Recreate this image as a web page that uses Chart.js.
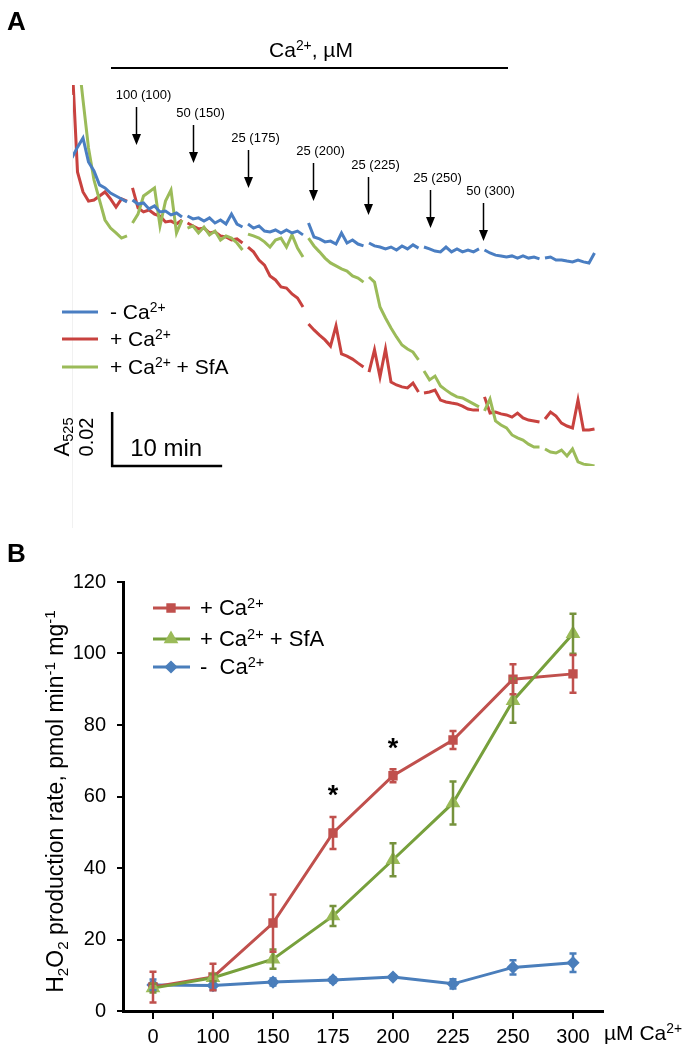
<!DOCTYPE html>
<html lang="en">
<head>
  <meta charset="UTF-8">
  <title>Ca2+ traces and H2O2 production rate</title>
  <script src="https://cdn.jsdelivr.net/npm/chart.js"></script>
  <style>
    body { margin: 0; background: #fff; }
    #page { position: relative; width: 684px; height: 1050px; }
    canvas { position: absolute; left: 0; }
    #traceChart { top: 0; }
    #rateChart { top: 530px; }
  </style>
</head>
<body>
<div id="page">
  <canvas id="traceChart" width="684" height="530"></canvas>
  <canvas id="rateChart" width="684" height="520"></canvas>
</div>

<script>
  // ---------- Panel A: A525 traces, sampled every 0.5 min (values in mA, relative) ----------
  const sampleStep = 0.5;
  const traceNoCa = [114.1, 118.1, 121.5, 112.6, 109.3, 104.1, 103.0, 101.1, 100.0, 98.9, 97.8,
    98.5, 97.0, 97.4, 95.2, 96.3, 94.1, 94.4, 93.0, 93.7, 92.2,
    92.6, 91.5, 91.9, 90.7, 91.9, 90.0, 91.1, 89.6, 93.3, 89.6, 88.5,
    89.6, 88.1, 88.9, 87.0, 86.7, 87.4, 86.3, 87.4, 86.3, 87.0, 85.6,
    90.0, 84.8, 84.1, 83.0, 83.3, 82.2, 86.3, 82.6, 83.7, 82.2, 81.5,
    82.6, 81.5, 81.1, 80.4, 81.1, 80.0, 81.5, 80.4, 81.9, 80.7,
    81.1, 80.4, 79.6, 79.3, 81.1, 79.3, 80.4, 79.3, 80.0, 79.3, 80.4,
    80.0, 78.9, 78.1, 77.8, 77.4, 77.8, 77.0, 77.8, 77.0, 77.4, 76.7,
    77.0, 77.4, 76.3, 76.3, 75.9, 75.6, 76.3, 75.6, 75.2, 78.9];
  const tracePlusCa = [150.4, 108.9, 101.5, 98.1, 98.5, 100.0, 101.5, 98.9, 95.9, 98.9, 98.1,
    103.0, 95.6, 94.1, 94.8, 93.3, 92.6, 90.4, 90.7, 89.6, 91.1,
    90.0, 88.9, 87.8, 88.1, 86.3, 86.7, 85.2, 84.8, 83.7, 84.1, 82.6,
    81.1, 79.3, 76.3, 74.4, 70.4, 68.9, 66.3, 65.9, 63.7, 62.2, 58.9,
    52.6, 50.4, 48.5, 46.7, 44.4, 51.9, 41.5, 40.7, 39.6, 38.1, 36.7,
    34.8, 43.0, 33.0, 43.3, 31.1, 30.0, 29.3, 28.9, 30.7, 27.4,
    27.0, 27.4, 28.1, 24.4, 23.7, 23.3, 23.0, 22.2, 21.1, 20.7, 20.7,
    25.6, 19.6, 20.0, 19.3, 18.9, 18.1, 19.6, 17.8, 17.0, 16.7, 16.3,
    17.4, 20.0, 18.5, 15.9, 14.8, 14.1, 24.4, 13.3, 13.3, 13.7];
  const tracePlusCaSfA = [null, 154.1, 135.6, 117.8, 105.9, 98.5, 91.1, 88.1, 86.3, 84.4, 85.2,
    90.0, 93.3, 100.0, 101.5, 103.0, 88.9, 98.1, 102.2, 86.3, 91.1,
    88.1, 88.9, 86.3, 88.5, 85.6, 87.0, 83.7, 85.2, 84.4, 82.6, 80.0,
    85.9, 85.2, 84.4, 83.0, 81.1, 83.7, 84.4, 81.1, 85.6, 80.7, 77.4,
    84.4, 81.5, 79.3, 77.0, 75.2, 74.1, 73.0, 72.2, 70.4, 69.6, 68.1,
    70.0, 68.1, 58.9, 54.8, 51.1, 47.8, 44.8, 43.3, 42.2, 39.3,
    35.2, 31.9, 33.3, 29.6, 28.1, 26.7, 25.6, 25.2, 24.1, 23.0, 21.9,
    20.4, 24.8, 16.7, 15.2, 14.1, 11.5, 10.4, 9.6, 8.1, 7.0, 7.0,
    6.3, 5.2, 4.8, 5.9, 3.7, 6.3, 1.5, 0.7, 0.4, 0.0];
  const timeMin = tracePlusCa.map((_, i) => i * sampleStep);
  // recording breaks (min)
  const gapTimes = [5.25, 10.25, 15.75, 21.25, 26.75, 31.75, 37.25, 42.75];
  // Ca2+ additions
  const additionTimes = [5.8, 11.0, 16.0, 21.9, 26.9, 32.5, 37.4];
  const addedCa = [100, 50, 25, 25, 25, 25, 50];
  const totalCa = [100, 150, 175, 200, 225, 250, 300];
  const scaleBarStart = 3.65;   // min
  const scaleBarMin = 10;       // min
  const scaleBarMilliA = 20;    // 0.02 A525

  // ---------- Panel B: H2O2 production rate ----------
  const caLabels = ['0', '100', '150', '175', '200', '225', '250', '300'];
  const ratePlusCa = [6.7, 9.5, 24.6, 49.8, 65.8, 75.8, 92.8, 94.3];
  const ratePlusCaErr = [4.3, 3.7, 8.0, 4.5, 1.8, 2.5, 4.2, 5.3];
  const ratePlusCaSfA = [6.4, 9.3, 14.5, 26.6, 42.3, 58.2, 86.8, 105.5];
  const ratePlusCaSfAErr = [1.2, 1.0, 2.7, 2.8, 4.6, 6.0, 6.2, 5.6];
  const rateNoCa = [7.3, 7.1, 8.1, 8.7, 9.5, 7.6, 12.2, 13.5];
  const rateNoCaErr = [1.5, 1.2, 1.0, 0.7, 0.5, 1.3, 2.0, 2.6];
  const significantIdx = [3, 4];

  const FAM = '"Liberation Sans", Arial, Helvetica, sans-serif';
  const BLUE = '#4a7ec2', RED = '#c8423f', GREEN = '#9bbb59';
  const RED_B = '#c0504d', GREEN_LINE = '#77a03c', GREEN_ERR = '#76923c', BLUE_B = '#4a7ebb';

  function font(size, bold) { return (bold ? 'bold ' : '') + size + 'px ' + FAM; }

  // text with sub/superscripts: parts = [[text, 'sub'|'sup'|undefined], ...]
  function richWidth(ctx, parts, size) {
    let w = 0;
    parts.forEach(p => {
      ctx.font = font(p[1] ? size * 0.66 : size);
      w += ctx.measureText(p[0]).width;
    });
    return w;
  }
  function drawRich(ctx, parts, x, y, size, align) {
    let cx = align === 'center' ? x - richWidth(ctx, parts, size) / 2 : x;
    ctx.textAlign = 'left';
    ctx.textBaseline = 'alphabetic';
    parts.forEach(p => {
      ctx.font = font(p[1] ? size * 0.66 : size);
      const dy = p[1] === 'sub' ? size * 0.2 : p[1] === 'sup' ? -size * 0.34 : 0;
      ctx.fillText(p[0], cx, y + dy);
      cx += ctx.measureText(p[0]).width;
    });
  }

  const traceNames = [
    [['- Ca'], ['2+', 'sup']],
    [['+ Ca'], ['2+', 'sup']],
    [['+ Ca'], ['2+', 'sup'], [' + SfA']]
  ];

  const traceDecor = {
    id: 'traceDecor',
    afterDraw(chart) {
      const { ctx, chartArea, scales: { x, y } } = chart;
      ctx.save();
      // faint left edge
      ctx.strokeStyle = '#f1f1f1';
      ctx.lineWidth = 1;
      ctx.beginPath();
      ctx.moveTo(chartArea.left + 0.5, chartArea.top + 10);
      ctx.lineTo(chartArea.left + 0.5, 528);
      ctx.stroke();

      ctx.fillStyle = '#000';
      ctx.strokeStyle = '#000';
      ctx.font = font(26, true);
      ctx.textAlign = 'left';
      ctx.textBaseline = 'alphabetic';
      ctx.fillText('A', 7, 30);

      drawRich(ctx, [['Ca'], ['2+', 'sup'], [', \u00b5M']], 311, 57, 21, 'center');
      ctx.lineWidth = 2;
      ctx.beginPath();
      ctx.moveTo(111, 68);
      ctx.lineTo(508, 68);
      ctx.stroke();

      // addition arrows
      const shaftTop = [107, 125, 150, 163, 177, 190, 203];
      additionTimes.forEach((t, i) => {
        const px = Math.round(x.getPixelForValue(t)) + 0.5;
        const top = shaftTop[i], tip = top + 38;
        ctx.lineWidth = 1.5;
        ctx.beginPath();
        ctx.moveTo(px, top);
        ctx.lineTo(px, tip - 8);
        ctx.stroke();
        ctx.beginPath();
        ctx.moveTo(px - 4.5, tip - 11);
        ctx.lineTo(px + 4.5, tip - 11);
        ctx.lineTo(px, tip);
        ctx.closePath();
        ctx.fill();
        ctx.font = font(13);
        ctx.textAlign = 'center';
        ctx.textBaseline = 'middle';
        ctx.fillText(addedCa[i] + ' (' + totalCa[i] + ')', px + 7, top - 12);
      });

      // legend
      const colors = [BLUE, RED, GREEN];
      const legendY = [312, 339, 367];
      traceNames.forEach((parts, i) => {
        ctx.strokeStyle = colors[i];
        ctx.lineWidth = 3;
        ctx.beginPath();
        ctx.moveTo(62, legendY[i]);
        ctx.lineTo(98, legendY[i]);
        ctx.stroke();
        ctx.fillStyle = '#000';
        drawRich(ctx, parts, 110, legendY[i] + 7, 21);
      });

      // scale bar
      const sx0 = x.getPixelForValue(scaleBarStart);
      const sx1 = x.getPixelForValue(scaleBarStart + scaleBarMin);
      const sy0 = y.getPixelForValue(0);
      const sy1 = y.getPixelForValue(scaleBarMilliA);
      ctx.strokeStyle = '#000';
      ctx.lineWidth = 2.5;
      ctx.beginPath();
      ctx.moveTo(sx0, sy1);
      ctx.lineTo(sx0, sy0);
      ctx.lineTo(sx1, sy0);
      ctx.stroke();
      ctx.fillStyle = '#000';
      ctx.font = font(24);
      ctx.textAlign = 'left';
      ctx.textBaseline = 'alphabetic';
      ctx.fillText('10 min', sx0 + 18, sy0 - 10);

      ctx.save();
      ctx.translate(69, (sy0 + sy1) / 2 - 2);
      ctx.rotate(-Math.PI / 2);
      drawRich(ctx, [['A'], ['525', 'sub']], 0, 0, 22, 'center');
      ctx.restore();
      ctx.save();
      ctx.translate(93, (sy0 + sy1) / 2 - 2);
      ctx.rotate(-Math.PI / 2);
      ctx.font = font(20);
      ctx.textAlign = 'center';
      ctx.textBaseline = 'alphabetic';
      ctx.fillText('0.02', 0, 0);
      ctx.restore();

      ctx.restore();
    }
  };

  const gapColor = c => gapTimes.some(g => c.p0.parsed.x < g && c.p1.parsed.x > g) ? 'rgba(0,0,0,0)' : undefined;

  function traceSet(values, color, order) {
    return {
      data: timeMin.map((t, i) => ({ x: t, y: values[i] })),
      borderColor: color,
      borderWidth: 3,
      pointRadius: 0,
      tension: 0,
      spanGaps: false,
      order: order,
      segment: { borderColor: gapColor }
    };
  }

  new Chart(document.getElementById('traceChart'), {
    type: 'line',
    data: {
      datasets: [
        traceSet(traceNoCa, BLUE, 0),
        traceSet(tracePlusCa, RED, 2),
        traceSet(tracePlusCaSfA, GREEN, 1)
      ]
    },
    options: {
      responsive: false,
      animation: false,
      layout: { padding: { left: 72, right: 84, top: 85, bottom: 64 } },
      plugins: { legend: { display: false }, tooltip: { enabled: false } },
      scales: {
        x: { type: 'linear', min: 0, max: 48, display: false },
        y: { type: 'linear', min: 0, max: 141.1, display: false }
      }
    },
    plugins: [traceDecor]
  });

  // ---------- Panel B ----------
  const rateNames = [
    [['+ Ca'], ['2+', 'sup']],
    [['+ Ca'], ['2+', 'sup'], [' + SfA']],
    [['-  Ca'], ['2+', 'sup']]
  ];
  const rateErrors = [ratePlusCaErr, ratePlusCaSfAErr, rateNoCaErr];
  const errColors = [RED_B, GREEN_ERR, BLUE_B];

  const rateDecor = {
    id: 'rateDecor',
    afterDatasetsDraw(chart) {
      const { ctx, scales: { y } } = chart;
      ctx.save();
      [2, 1, 0].forEach(i => {
        const meta = chart.getDatasetMeta(i);
        const vals = chart.data.datasets[i].data;
        ctx.strokeStyle = errColors[i];
        ctx.lineWidth = 2.5;
        meta.data.forEach((pt, j) => {
          const y1 = y.getPixelForValue(vals[j] + rateErrors[i][j]);
          const y2 = y.getPixelForValue(vals[j] - rateErrors[i][j]);
          ctx.beginPath();
          ctx.moveTo(pt.x, y1); ctx.lineTo(pt.x, y2);
          ctx.moveTo(pt.x - 3.5, y1); ctx.lineTo(pt.x + 3.5, y1);
          ctx.moveTo(pt.x - 3.5, y2); ctx.lineTo(pt.x + 3.5, y2);
          ctx.stroke();
        });
      });
      ctx.restore();
    },
    afterDraw(chart) {
      const { ctx, chartArea, scales: { x, y } } = chart;
      ctx.save();
      ctx.fillStyle = '#000';
      ctx.font = font(26, true);
      ctx.textAlign = 'left';
      ctx.textBaseline = 'alphabetic';
      ctx.fillText('B', 7, 32);

      // y title
      ctx.save();
      ctx.translate(63, (chartArea.top + chartArea.bottom) / 2 + 5);
      ctx.rotate(-Math.PI / 2);
      drawRich(ctx, [['H'], ['2', 'sub'], ['O'], ['2', 'sub'], [' production rate, pmol min'], ['-1', 'sup'], [' mg'], ['-1', 'sup']], 0, 0, 23, 'center');
      ctx.restore();

      // x title
      drawRich(ctx, [['\u00b5M Ca'], ['2+', 'sup']], chartArea.right + 1, 510, 21);

      // significance marks
      ctx.font = font(27, true);
      ctx.textAlign = 'center';
      ctx.textBaseline = 'alphabetic';
      significantIdx.forEach(j => {
        const top = ratePlusCa[j] + ratePlusCaErr[j] + 8;
        ctx.fillText('*', x.getPixelForValue(j), y.getPixelForValue(top) + 16);
      });

      // legend
      const styles = [
        { c: RED_B, line: RED_B, ps: 'rect', r: 4.5 },
        { c: GREEN, line: GREEN_LINE, ps: 'triangle', r: 5.5 },
        { c: BLUE_B, line: BLUE_B, ps: 'rectRot', r: 4.5 }
      ];
      const ly = [78, 109, 137];
      rateNames.forEach((parts, i) => {
        ctx.strokeStyle = styles[i].line;
        ctx.lineWidth = 3;
        ctx.beginPath();
        ctx.moveTo(153, ly[i]);
        ctx.lineTo(190, ly[i]);
        ctx.stroke();
        ctx.fillStyle = styles[i].c;
        ctx.strokeStyle = styles[i].c;
        Chart.helpers.drawPoint(ctx, { pointStyle: styles[i].ps, radius: styles[i].r, borderWidth: 1, rotation: 0 }, 171, ly[i]);
        ctx.fillStyle = '#000';
        drawRich(ctx, parts, 200, ly[i] + 7, 22);
      });
      ctx.restore();
    }
  };

  function rateSet(values, line, marker, style, radius, order) {
    return {
      data: values,
      borderColor: line,
      backgroundColor: marker,
      pointBackgroundColor: marker,
      pointBorderColor: marker,
      pointStyle: style,
      pointRadius: radius,
      borderWidth: 3,
      tension: 0,
      order: order
    };
  }

  const tickFont = { family: FAM, size: 20 };
  new Chart(document.getElementById('rateChart'), {
    type: 'line',
    data: {
      labels: caLabels,
      datasets: [
        rateSet(ratePlusCa, RED_B, RED_B, 'rect', 4.5, 1),
        rateSet(ratePlusCaSfA, GREEN_LINE, GREEN, 'triangle', 5.5, 0),
        rateSet(rateNoCa, BLUE_B, BLUE_B, 'rectRot', 4.5, 2)
      ]
    },
    options: {
      responsive: false,
      animation: false,
      layout: { padding: { left: 0, right: 81, top: 52, bottom: 0 } },
      plugins: { legend: { display: false }, tooltip: { enabled: false } },
      scales: {
        x: {
          offset: true,
          grid: { drawOnChartArea: false, drawTicks: true, tickLength: 8, color: '#000', lineWidth: 2 },
          border: { color: '#000', width: 3 },
          ticks: { color: '#000', font: tickFont, padding: 6, maxRotation: 0 },
          afterFit(s) { s.height = 39; }
        },
        y: {
          min: 0,
          max: 120,
          grid: { drawOnChartArea: false, drawTicks: true, tickLength: 6, color: '#000', lineWidth: 2 },
          border: { color: '#000', width: 3 },
          ticks: { color: '#000', font: tickFont, stepSize: 20, padding: 11 },
          afterFit(s) { s.width = 123; }
        }
      }
    },
    plugins: [rateDecor]
  });
</script>
</body>
</html>
